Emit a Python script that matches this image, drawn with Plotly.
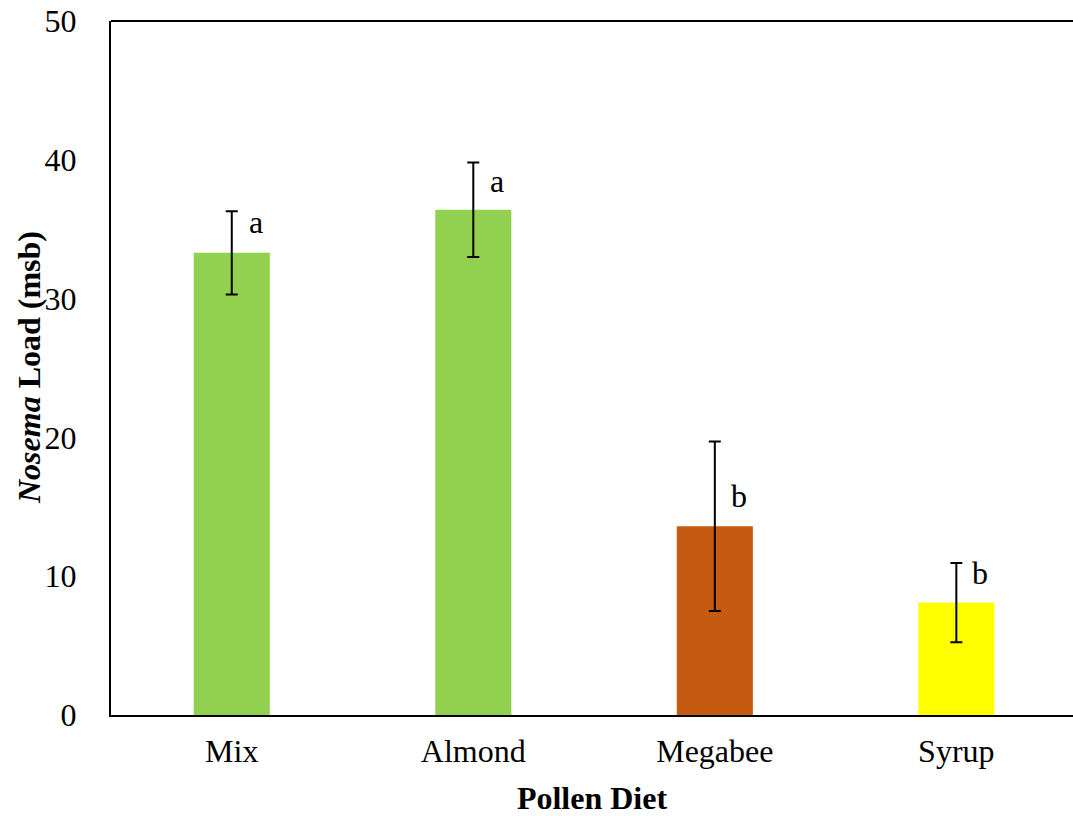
import plotly.graph_objects as go

# Nosema load by pollen diet (mean ± SE)
diets = ["Mix", "Almond", "Megabee", "Syrup"]
nosema_load = [33.3, 36.4, 13.6, 8.1]
load_se = [3.0, 3.4, 6.1, 2.85]
group_letters = ["a", "a", "b", "b"]

bar_colors = ["#92D050", "#92D050", "#C55A11", "#FFFF00"]
letter_y = [35.5, 38.5, 15.8, 10.2]  # vertical placement of the significance letters
FONT = "Liberation Serif, Times New Roman, serif"

fig = go.Figure()
fig.add_trace(go.Bar(
    x=diets,
    y=nosema_load,
    width=0.315,
    marker=dict(color=bar_colors, line=dict(width=0)),
    error_y=dict(type="data", array=load_se, visible=True,
                 color="black", thickness=2, width=6),
    showlegend=False,
    hoverinfo="skip",
))

for i, (letter, ly) in enumerate(zip(group_letters, letter_y)):
    fig.add_annotation(
        x=i, y=ly, xref="x", yref="y",
        text=letter, showarrow=False,
        xshift=24, font=dict(family=FONT, size=32, color="black"),
    )

# y-axis title as a rotated annotation so it can sit freely in the margin
fig.add_annotation(
    x=0, y=0.5, xref="paper", yref="paper",
    text="<b><i>Nosema</i> Load (msb)</b>", textangle=-90,
    showarrow=False, xanchor="center", yanchor="middle", xshift=-82,
    font=dict(family=FONT, size=32, color="black"),
)

# top frame line (no right border)
fig.add_shape(type="line", xref="paper", yref="paper",
              x0=0, x1=1, y0=1, y1=1,
              line=dict(color="black", width=2))

fig.update_layout(
    width=1073, height=816,
    margin=dict(l=111, r=0, t=21, b=101),
    plot_bgcolor="white", paper_bgcolor="white",
    font=dict(family=FONT, size=32, color="black"),
)
fig.update_xaxes(
    type="category",
    range=[-0.5, 3.483],
    showline=True, linecolor="black", linewidth=2,
    ticks="", showgrid=False, zeroline=False,
    tickfont=dict(family=FONT, size=32, color="black"),
    ticklabelstandoff=7,
    title=dict(text="<b>Pollen Diet</b>", standoff=21,
               font=dict(family=FONT, size=32, color="black")),
)
fig.update_yaxes(
    range=[0, 50], dtick=10,
    showline=True, linecolor="black", linewidth=2,
    ticks="", showgrid=False, zeroline=False,
    tickfont=dict(family=FONT, size=32, color="black"),
    ticklabelstandoff=26,
)

fig.write_html("out.html")
